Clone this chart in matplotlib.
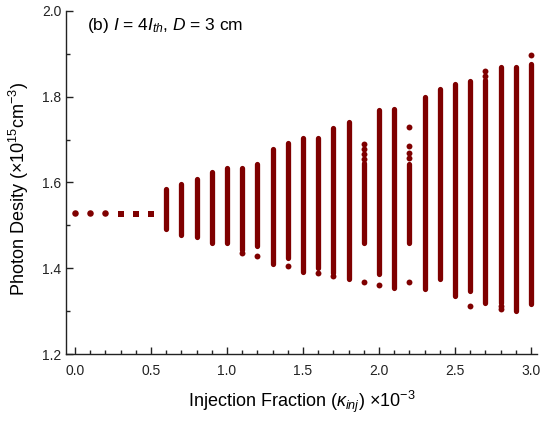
import matplotlib
matplotlib.use("Agg")
import matplotlib.pyplot as plt
from matplotlib.ticker import MultipleLocator

plt.rcParams["font.family"] = ["Liberation Sans", "DejaVu Sans"]
plt.rcParams["mathtext.fontset"] = "custom"
plt.rcParams["mathtext.rm"] = "Liberation Sans"
plt.rcParams["mathtext.it"] = "Liberation Sans:italic"

COLOR = "#7f0000"

# 0.0 - 0.5: stable single points
single_x = [0.0, 0.1, 0.2, 0.3, 0.4, 0.5]
single_y = [1.530, 1.530, 1.529, 1.527, 1.527, 1.527]

# 0.6 - 3.0: range of the photon density oscillation (dense columns)
col_x = [0.6, 0.7, 0.8, 0.9, 1.0, 1.1, 1.2, 1.3, 1.4, 1.5, 1.6, 1.7, 1.8,
         1.9, 2.0, 2.1, 2.2, 2.3, 2.4, 2.5, 2.6, 2.7, 2.8, 2.9, 3.0]
col_top = [1.585, 1.596, 1.608, 1.624, 1.634, 1.634, 1.643, 1.678, 1.692,
           1.703, 1.703, 1.727, 1.741, 1.645, 1.769, 1.771, 1.643, 1.799,
           1.818, 1.830, 1.836, 1.839, 1.869, 1.869, 1.876]
col_bot = [1.491, 1.477, 1.473, 1.459, 1.459, 1.442, 1.452, 1.410, 1.424,
           1.391, 1.400, 1.390, 1.375, 1.459, 1.386, 1.354, 1.459, 1.352,
           1.375, 1.335, 1.347, 1.319, 1.320, 1.300, 1.317]

# isolated points outside the dense columns
dot_x = [1.1, 1.2, 1.4, 1.6, 1.7, 1.9, 1.9, 1.9, 1.9, 1.9, 2.0, 2.2, 2.2,
         2.2, 2.2, 2.2, 2.6, 2.7, 2.7, 2.8, 2.8, 3.0]
dot_y = [1.435, 1.428, 1.405, 1.389, 1.382, 1.690, 1.678, 1.666, 1.655,
         1.368, 1.361, 1.729, 1.685, 1.669, 1.657, 1.368, 1.312, 1.860,
         1.848, 1.312, 1.305, 1.897]

fig = plt.figure(figsize=(5.4, 4.22), dpi=100)
ax = fig.add_axes([0.1222, 0.1611, 0.8722, 0.8129])

ax.scatter(single_x[:3], single_y[:3], s=22, color=COLOR, lw=0, zorder=3)
ax.scatter(single_x[3:], single_y[3:], s=14, color=COLOR, lw=0, marker="s",
           zorder=3)
ax.vlines(col_x, col_bot, col_top, colors=COLOR, lw=3.8, capstyle="round",
          zorder=2)
ax.scatter(dot_x, dot_y, s=18, color=COLOR, lw=0, zorder=3)

ax.set_xlim(-0.06, 3.04)
ax.set_ylim(1.2, 2.0)
ax.xaxis.set_major_locator(MultipleLocator(0.5))
ax.xaxis.set_minor_locator(MultipleLocator(0.1))
ax.yaxis.set_major_locator(MultipleLocator(0.2))
ax.yaxis.set_minor_locator(MultipleLocator(0.1))
ax.xaxis.set_major_formatter(lambda v, p: f"{v:.1f}")
ax.yaxis.set_major_formatter(lambda v, p: f"{v:.1f}")

for s in ["top", "right"]:
    ax.spines[s].set_visible(False)
for s in ["left", "bottom"]:
    ax.spines[s].set_linewidth(1.0)
    ax.spines[s].set_color("#222222")

ax.tick_params(which="both", direction="in", top=False, right=False,
               labelsize=10, colors="#222222")
ax.tick_params(which="major", length=5, width=1)
ax.tick_params(which="minor", length=3, width=1)
ax.tick_params(axis="x", pad=7)

ax.set_xlabel(r"Injection Fraction ($\kappa_{inj}$) $\times$10$^{-3}$",
              fontsize=13, labelpad=8)
ax.set_ylabel(r"Photon Desity ($\times$10$^{15}$cm$^{-3}$)",
              fontsize=13, labelpad=4)
ax.yaxis.set_label_coords(-0.074, 0.48)

ax.text(0.045, 0.985, r"(b) $I$ = 4$I_{th}$, $D$ = 3 cm", transform=ax.transAxes,
        fontsize=12.5, va="top", ha="left")

fig.savefig("out.png", dpi=100)
